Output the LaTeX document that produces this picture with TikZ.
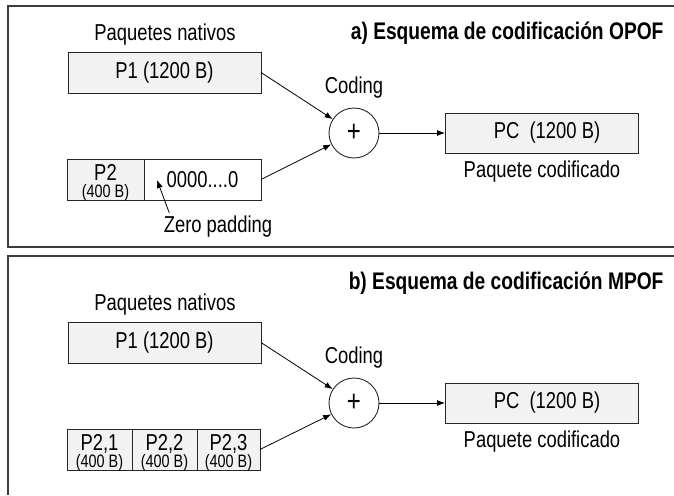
\documentclass[tikz,border=0pt]{standalone}
\usepackage{fontspec}
\setmainfont{Liberation Sans}[FakeStretch=0.8]
\usetikzlibrary{positioning, arrows.meta}

\definecolor{pktfill}{HTML}{F2F2F2}
\definecolor{framegray}{HTML}{3C3C3C}
\newcommand{\smallsz}{\fontsize{18}{18}\selectfont}
\newcommand{\topstrut}{\rule{0pt}{19pt}}
\newcommand{\sizeline}{\raisebox{0pt}[\height][0pt]{\smallsz(400 B)}}

\tikzset{
  pkt/.style={draw=black!85, fill=pktfill, line width=0.9pt, outer sep=0pt,
              minimum height=41pt, inner sep=0pt, align=center},
  coder/.style={draw=black!85, line width=0.9pt, circle, minimum size=50pt, inner sep=0pt,
                font=\fontsize{30}{30}\selectfont},
  panel/.style={draw=framegray, line width=1.1pt},
  link/.style={->, line width=0.8pt},
  title/.style={font=\fontsize{24}{26}\selectfont\bfseries, anchor=east}
}

\begin{document}
\begin{tikzpicture}[>={Latex[length=8pt,width=6pt]}, x=1pt, y=-1pt, font=\fontsize{23}{24}\selectfont]
    \useasboundingbox (0,0) rectangle (674,495);

    % frames of the two panels
    \draw[panel] (674,6) -- (8,6) -- (8,247) -- (674,247);
    \draw[panel] (674,256) -- (8,256) -- (8,495);

    %%% a) OPOF
    \node[title] (titlea) at (667,33) {a) Esquema de codificación OPOF};
    \node (nata) at (165,35) {Paquetes nativos};

    \node[pkt, minimum width=193pt] (p1a) at (164.5,72.5) {P1 (1200 B)};
    \node[pkt, minimum width=77pt] (p2a) at (105.5,179.5) {\topstrut P2\\[-7pt]\sizeline};
    \node[pkt, fill=white, minimum width=117pt, right=0pt of p2a] (pada) {0000....0};

    \node[coder] (coda) at (354,133) {+};
    \node (codinga) at (354,88) {Coding};

    \node[pkt, minimum width=193pt, minimum height=40pt] (pca) at (541.5,133) {\hspace{11pt}PC~~(1200 B)};
    \node (pcla) at (542,172) {Paquete codificado};

    \node (zp) at (218,227) {Zero padding};
    \coordinate (padtip) at (157,180);

    % Connections: natives to coder, coder to coded packet
    \draw[link] (p1a.east) -- (coda);
    \draw[link] (pada.east) -- (coda);
    \draw[link] (coda) -- (pca);
    \draw[link] ([xshift=9pt]zp.north west) -- (padtip);

    %%% b) MPOF
    \node[title] (titleb) at (667,283) {b) Esquema de codificación MPOF};
    \node (natb) at (165,305) {Paquetes nativos};

    \node[pkt, minimum width=193pt] (p1b) at (164.5,342.5) {P1 (1200 B)};
    \node[pkt, minimum width=65pt] (seg1) at (99.5,449.5) {\topstrut P2,1\\[-7pt]\sizeline};
    \node[pkt, minimum width=65pt, right=0pt of seg1] (seg2) {\topstrut P2,2\\[-7pt]\sizeline};
    \node[pkt, minimum width=63pt, right=0pt of seg2] (seg3) {\topstrut P2,3\\[-7pt]\sizeline};

    \node[coder] (codb) at (354,403) {+};
    \node (codingb) at (354,358) {Coding};

    \node[pkt, minimum width=193pt, minimum height=40pt] (pcb) at (541.5,403) {\hspace{11pt}PC~~(1200 B)};
    \node (pclb) at (542,442) {Paquete codificado};

    % Connections
    \draw[link] (p1b.east) -- (codb);
    \draw[link] (seg3.east) -- (codb);
    \draw[link] (codb) -- (pcb);

\end{tikzpicture}
\end{document}
